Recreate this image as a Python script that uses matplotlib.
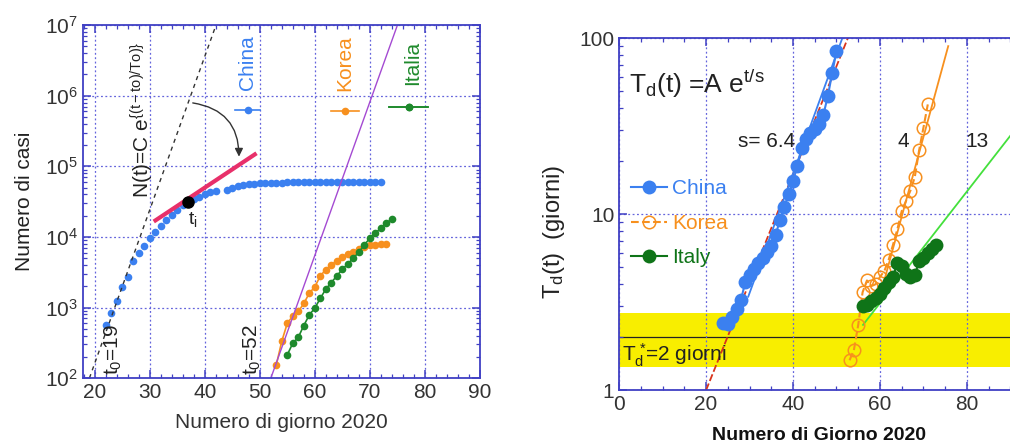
import matplotlib
matplotlib.use("Agg")
import matplotlib.pyplot as plt
import numpy as np
from matplotlib.lines import Line2D
from matplotlib.ticker import LogLocator, MultipleLocator, FixedLocator, NullFormatter, FuncFormatter

plt.rcParams['font.family'] = ['Liberation Sans', 'DejaVu Sans']
plt.rcParams['mathtext.fontset'] = 'custom'
plt.rcParams['mathtext.rm'] = 'Liberation Sans'
plt.rcParams['mathtext.it'] = 'Liberation Sans:italic'
plt.rcParams['mathtext.bf'] = 'Liberation Sans:bold'

# --- casi cumulati (pannello sinistro) ---
china_days = list(range(22, 43)) + list(range(44, 73))
china_cases = [570, 830, 1240, 1950, 2700, 4500, 5900, 7500, 9500, 11700,
               14400, 17200, 20400, 24300, 27900, 31200, 34500, 37200, 40200, 42700,
               44700,
               46000, 49600, 52000, 54000, 55500, 56500, 57500, 58000, 58400, 58700,
               58900, 59100, 59300, 59500, 59600, 59700, 59800, 59900, 60000, 60100,
               60200, 60300, 60400, 60400, 60500, 60500, 60600, 60600, 60700]
korea_days = list(range(53, 74))
korea_cases = [155, 335, 600, 760, 880, 1140, 1600, 1960, 2800, 3450,
               4000, 4600, 5200, 5800, 6200, 6700, 7200, 7600, 7800, 7900, 8000]
italy_days = list(range(55, 75))
italy_cases = [214, 313, 380, 556, 787, 980, 1350, 1820, 2260, 2800,
               3480, 4150, 5000, 6040, 7700, 9560, 11300, 13300, 15600, 18000]

# crescita esponenziale N(t) = 100 exp((t - t0)/T0)
exp_china_t0, exp_italy_t0, exp_T0 = 19, 52, 2.0
# tangente nel punto di flesso
tang_t = [30.7, 49.4]
tang_n = [16500, 153000]
ti_day, ti_cases = 37, 31000

# --- tempo di raddoppio (pannello destro) ---
td_china_days = list(range(24, 51))
td_china = [2.42, 2.38, 2.6, 2.9, 3.24, 4.1, 4.5, 4.9, 5.3, 5.6,
            6.1, 6.6, 7.6, 9.3, 11.0, 13.0, 15.5, 18.7, 23.7, 26.8,
            29.0, 30.6, 32.5, 36.8, 46.8, 63.0, 84.6]
td_korea_days = list(range(53, 72))
td_korea = [1.48, 1.69, 2.35, 3.6, 4.2, 3.9, 4.0, 4.4, 4.75, 5.5,
            6.7, 8.2, 10.4, 11.9, 13.6, 16.2, 23.0, 31.0, 42.0]
td_italy_days = list(range(56, 74))
td_italy = [3.0, 3.05, 3.2, 3.35, 3.5, 3.8, 4.1, 4.4, 5.3, 5.1,
            4.6, 4.4, 4.5, 5.4, 5.6, 6.0, 6.3, 6.7]

# fit Td = A exp((t - ta)/s)
fit_red = dict(a=1.0, ta=20.0, s=7.08, t=(20, 53))
fit_blue = dict(a=3.4, ta=29.7, s=6.4, t=(29.7, 52))
fit_orange = dict(a=90.0, ta=75.7, s=4.8, t=(60, 75.7))
fit_green = dict(a=2.35, ta=56.1, s=13.7, t=(56.1, 96))
td_star = 2.0
band_lo, band_hi = 1.36, 2.75

BLUE = '#3b80f0'
ORANGE = '#f7901e'
GREEN = '#1e8a2c'
GREEN_D = '#0f7418'
AXBLUE = '#4040c4'
GRID = '#6464dc'
PINK = '#e8306a'
PURPLE = '#a44ad2'
LIME = '#44e03c'
TXT = '#222222'

fig = plt.figure(figsize=(10.1, 4.48), dpi=100)
ax1 = fig.add_axes([0.082, 0.156, 0.393, 0.788])
ax2 = fig.add_axes([0.613, 0.129, 0.396, 0.786])


def style_axes(ax):
    for s in ax.spines.values():
        s.set_color(AXBLUE)
        s.set_linewidth(1.3)
    ax.tick_params(which='both', direction='in', color=AXBLUE, top=True, right=True,
                   labelcolor='#333333', labelsize=15)
    ax.tick_params(which='major', length=6, width=1.1)
    ax.tick_params(which='minor', length=3, width=0.9)
    ax.grid(True, which='major', color=GRID, linestyle=(0, (1.5, 2)), linewidth=0.9)


# ---------------- pannello sinistro ----------------
ax1.set_yscale('log')
ax1.set_xlim(17.8, 90)
ax1.set_ylim(1e2, 1e7)
ax1.xaxis.set_major_locator(MultipleLocator(10))
ax1.xaxis.set_minor_locator(MultipleLocator(2))
ax1.yaxis.set_major_locator(LogLocator(base=10, numticks=10))
ax1.yaxis.set_minor_locator(LogLocator(base=10, subs=np.arange(2, 10), numticks=20))
ax1.yaxis.set_minor_formatter(NullFormatter())
style_axes(ax1)

ax1.plot(china_days, china_cases, 'o', color=BLUE, ms=5.5, mec='none')
ax1.plot(korea_days, korea_cases, '-o', color=ORANGE, ms=5.5, mec='none', lw=1.2)
ax1.plot(italy_days, italy_cases, '-o', color=GREEN, ms=5.5, mec='none', lw=1.2)

t = np.linspace(exp_china_t0, 44, 50)
ax1.plot(t, 100 * np.exp((t - exp_china_t0) / exp_T0), color='#333333', lw=1,
         linestyle=(0, (3, 3)))
t = np.linspace(exp_italy_t0, 76, 50)
ax1.plot(t, 100 * np.exp((t - exp_italy_t0) / exp_T0), color=PURPLE, lw=1)
ax1.plot(tang_t, tang_n, color=PINK, lw=3, solid_capstyle='butt')
ax1.plot([ti_day], [ti_cases], 'o', color='black', ms=8)

ax1.annotate('', xy=(46.2, 1.25e5), xytext=(37.3, 8e5),
             arrowprops=dict(arrowstyle='-|>', connectionstyle='arc3,rad=-0.45',
                             color='#333333', lw=1, mutation_scale=12))

ax1.text(28.7, 3.6e4, r'N(t)=C e$^{\mathregular{\{(t-to)/To)\}}}$', rotation=90,
         ha='center', va='bottom', fontsize=15, color=TXT)
ax1.text(23.4, 1.1e2, r't$_{\mathregular{0}}$=19', rotation=90, ha='center',
         va='bottom', fontsize=15, color=TXT)
ax1.text(48.7, 1.1e2, r't$_{\mathregular{0}}$=52', rotation=90, ha='center',
         va='bottom', fontsize=15, color=TXT)
ax1.text(37.8, 2.4e4, r't$_{\mathregular{i}}$', ha='center', va='top', fontsize=14,
         color=TXT)
ax1.text(47.8, 2.9e6, 'China', rotation=90, ha='center', va='center',
         fontsize=15, color=BLUE)
ax1.text(65.5, 2.9e6, 'Korea', rotation=90, ha='center', va='center',
         fontsize=15, color=ORANGE)
ax1.text(77.7, 2.9e6, 'Italia', rotation=90, ha='center', va='center',
         fontsize=15, color=GREEN)

for col, pos, hl in [(BLUE, (0.415, 0.757), 1.8), (ORANGE, (0.66, 0.754), 2.0),
                     (GREEN, (0.821, 0.765), 2.8)]:
    h = Line2D([], [], color=col, marker='o', ms=5.5, mec='none', lw=1.2)
    leg = ax1.legend([h], [''], loc='center', bbox_to_anchor=pos, frameon=False,
                     handlelength=hl, handletextpad=0, borderpad=0, fontsize=10)
    ax1.add_artist(leg)

ax1.set_xlabel('Numero di giorno 2020', fontsize=15, color='#333333', labelpad=8)
ax1.set_ylabel('Numero di casi', fontsize=15, color=TXT, labelpad=8)

# ---------------- pannello destro ----------------
ax2.set_yscale('log')
ax2.set_xlim(0, 92)
ax2.set_ylim(1, 100)
ax2.xaxis.set_major_locator(MultipleLocator(20))
ax2.xaxis.set_minor_locator(MultipleLocator(5))
ax2.yaxis.set_major_locator(FixedLocator([1, 10, 100]))
ax2.yaxis.set_major_formatter(FuncFormatter(lambda v, p: f'{v:g}'))
ax2.yaxis.set_minor_locator(LogLocator(base=10, subs=np.arange(2, 10), numticks=20))
ax2.yaxis.set_minor_formatter(NullFormatter())
style_axes(ax2)

ax2.axhspan(band_lo, band_hi, color='#f8ee00', zorder=0.5, lw=0)
ax2.axhline(td_star, color='#222222', lw=0.9, zorder=1)

for f, col, ls in [(fit_red, '#d8341c', (0, (4, 1.5))), (fit_blue, BLUE, '-'),
                   (fit_orange, ORANGE, '-'), (fit_green, LIME, '-')]:
    tt = np.linspace(f['t'][0], f['t'][1], 50)
    ax2.plot(tt, f['a'] * np.exp((tt - f['ta']) / f['s']), color=col, lw=1.3,
             linestyle=ls, zorder=2)

l_c, = ax2.plot(td_china_days, td_china, '-o', color=BLUE, ms=10, mec='none', lw=1.5,
                zorder=3)
l_k, = ax2.plot(td_korea_days, td_korea, '--o', color=ORANGE, ms=9, mfc='none',
                mew=1.1, lw=1.5, zorder=3)
l_i, = ax2.plot(td_italy_days, td_italy, '-o', color=GREEN_D, ms=10, mec='none',
                lw=1.5, zorder=4)

ax2.legend([l_c, l_k, l_i], ['China', 'Korea', 'Italy'],
           labelcolor=[BLUE, ORANGE, GREEN_D], frameon=False, loc='center left',
           bbox_to_anchor=(0.01, 0.474), fontsize=15, handlelength=1.7,
           handletextpad=0.25, labelspacing=0.75, borderaxespad=0)

ax2.text(0.025, 0.87, r'T$_{\mathregular{d}}$(t) =A e$^{\mathregular{t/s}}$',
         transform=ax2.transAxes, fontsize=19, color=TXT, va='center')
ax2.text(27.3, 25.8, 's= 6.4', fontsize=15, color=TXT, va='center')
ax2.text(65.3, 25.8, '4', fontsize=15, color=TXT, va='center', ha='center')
ax2.text(82.3, 25.8, '13', fontsize=15, color=TXT, va='center', ha='center')
ax2.text(0.6, 1.57, r'T$_{\mathregular{d}}^{\ \mathregular{*}}$=2 giorni', fontsize=15,
         color=TXT, va='center')

ax2.set_xlabel('Numero di Giorno 2020', fontsize=14, fontweight='bold', color='#111111',
               labelpad=9)
ax2.set_ylabel(r'T$_{\mathregular{d}}$(t)  (giorni)', fontsize=17, color=TXT)
ax2.yaxis.set_label_coords(-0.13, 0.45)

fig.savefig('out.png', dpi=100)
